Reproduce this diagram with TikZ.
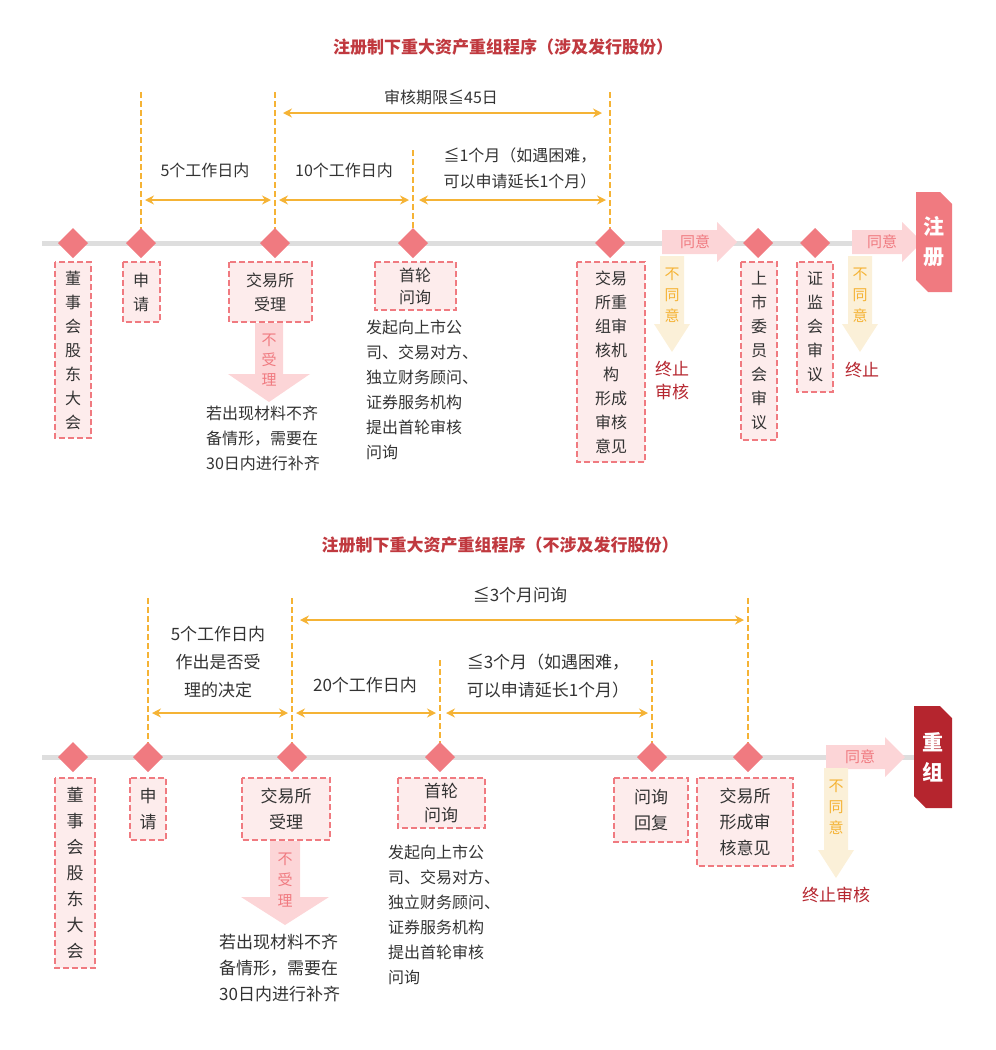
\documentclass[tikz,border=0pt]{standalone}
\usepackage{fontspec}
\setmainfont{Noto Sans CJK SC}
\usetikzlibrary{arrows.meta}
\definecolor{pk}{HTML}{F07A80}
\definecolor{pkfill}{HTML}{FDECEC}
\definecolor{og}{HTML}{F5B335}
\definecolor{rd}{HTML}{C0393F}
\definecolor{dk}{HTML}{B5252E}
\definecolor{lp}{HTML}{FCD5D7}
\definecolor{ly}{HTML}{FBF0D8}
\definecolor{tx}{HTML}{333333}
\begin{document}
\begin{tikzpicture}[x=1pt,y=-1pt,
  every node/.style={inner sep=0pt,text=tx,font=\fontsize{16}{24}\selectfont},
  axis/.style={draw=black!13,line width=5pt},
  dia/.style={fill=pk},
  vdash/.style={draw=og,dash pattern=on 6pt off 3pt,line width=1.8pt},
  span/.style={draw=og,line width=1.8pt,{Stealth[length=9pt,width=9pt]}-{Stealth[length=9pt,width=9pt]}},
  stepbox/.style={draw=pk,fill=pkfill,dash pattern=on 6pt off 3pt,line width=1.8pt},
  ttl/.style={text=rd,font=\fontsize{17}{22}\selectfont\bfseries},
  stop/.style={text=dk,font=\fontsize{17}{23}\selectfont},
  lbl/.style={align=center},
  body/.style={align=left,anchor=north west,font=\fontsize{16}{25}\selectfont}]
\useasboundingbox (0,0) rectangle (996,1050);
\newcommand{\dmd}[2]{\fill[dia] (#1-15,#2)--(#1,#2-15)--(#1+15,#2)--(#1,#2+15)--cycle;}
\newcommand{\boxr}[4]{\draw[stepbox] (#1,#2) rectangle (#3,#4);}
\newcommand{\rarr}[3]{\fill[lp] (#1,#3-12)--(#2-20,#3-12)--(#2-20,#3-20)--(#2,#3)--(#2-20,#3+20)--(#2-20,#3+12)--(#1,#3+12)--cycle;}
\newcommand{\darr}[6]{\fill[#6] (#1-#4,#2)--(#1+#4,#2)--(#1+#4,#3-28)--(#1+#5,#3-28)--(#1,#3)--(#1-#5,#3-28)--(#1-#4,#3-28)--cycle;}

% ===== TOP =====
\node[ttl] (t1) at (503,47) {注册制下重大资产重组程序（涉及发行股份）};
\draw[axis] (42,243) -- (918,243);
\draw[vdash] (141,92)--(141,243); \draw[vdash] (275,92)--(275,243);
\draw[vdash] (413,150)--(413,243); \draw[vdash] (610,92)--(610,243);
\draw[span] (283,113)--(602,113);
\node (p1) at (441,97) {审核期限≦45日};
\draw[span] (145,200)--(271,200); \draw[span] (279,200)--(409,200); \draw[span] (419,200)--(606,200);
\node (a1) at (205,170) {5个工作日内};
\node (a2) at (344,170) {10个工作日内};
\node[lbl,align=left,font=\fontsize{16}{26}\selectfont] (a3) at (520,168) {≦1个月（如遇困难，\\可以申请延长1个月）};
\foreach \x in {73,141,275,413,610,758,815} {\dmd{\x}{243}}
\boxr{55}{262}{91}{438} \node[lbl] (b1) at (73,350) {董\\事\\会\\股\\东\\大\\会};
\boxr{123}{262}{160}{322} \node[lbl] (b2) at (141,292) {申\\请};
\boxr{229}{262}{312}{322} \node[lbl] (b3) at (270,292) {交易所\\受理};
\boxr{375}{262}{456}{310} \node[lbl,font=\fontsize{16}{22}\selectfont] (b4) at (415,286) {首轮\\问询};
\boxr{577}{262}{645}{462} \node[lbl] (b5) at (611,362) {交易\\所重\\组审\\核机\\构\\形成\\审核\\意见};
\boxr{741}{262}{777}{440} \node[lbl] (b6) at (759,351) {上\\市\\委\\员\\会\\审\\议};
\boxr{797}{262}{833}{392} \node[lbl] (b7) at (815,327) {证\\监\\会\\审\\议};
\node[body] (d1) at (366,320) {发起向上市公\\司、交易对方、\\独立财务顾问、\\证券服务机构\\提出首轮审核\\问询};
\darr{269}{323}{402}{14}{41}{lp}
\node[lbl,text=pk,font=\fontsize{15}{20}\selectfont] (n1) at (269,360) {不\\受\\理};
\node[body] (d2) at (206,406) {若出现材料不齐\\备情形，需要在\\30日内进行补齐};
\rarr{662}{737}{242}
\node[text=pk,font=\fontsize{15}{20}\selectfont] (g1) at (695,242) {同意};
\darr{672}{256}{352}{12}{18}{ly}
\node[lbl,text=og,font=\fontsize{15}{21}\selectfont] (r1) at (672,295) {不\\同\\意};
\node[stop,align=center] (s1) at (672,381) {终止\\审核};
\rarr{852}{922}{242}
\node[text=pk,font=\fontsize{15}{20}\selectfont] (g2) at (882,242) {同意};
\darr{860}{256}{352}{12}{18}{ly}
\node[lbl,text=og,font=\fontsize{15}{21}\selectfont] (r2) at (860,295) {不\\同\\意};
\node[stop] (s2) at (862,370) {终止};
\fill[pk] (916,192)--(940,192)--(952,204)--(952,292)--(928,292)--(916,280)--cycle;
\node[lbl,text=white,font=\fontsize{21}{30}\selectfont\bfseries] (e1) at (934,242) {注\\册};

% ===== BOTTOM =====
\node[ttl] (t2) at (500,545) {注册制下重大资产重组程序（不涉及发行股份）};
\draw[axis] (42,757) -- (918,757);
\draw[vdash] (148,598)--(148,757); \draw[vdash] (292,598)--(292,757);
\draw[vdash] (440,660)--(440,757); \draw[vdash] (652,660)--(652,757);
\draw[vdash] (748,598)--(748,757);
\draw[span] (300,620)--(744,620);
\node[font=\fontsize{17}{22}\selectfont] (p2) at (520,595) {≦3个月问询};
\draw[span] (152,713)--(288,713); \draw[span] (296,713)--(436,713); \draw[span] (446,713)--(648,713);
\node[lbl,font=\fontsize{17}{28}\selectfont] (c1) at (218,662) {5个工作日内\\作出是否受\\理的决定};
\node[font=\fontsize{17}{22}\selectfont] (c2) at (365,685) {20个工作日内};
\node[lbl,align=left,font=\fontsize{17}{28}\selectfont] (c3) at (548,676) {≦3个月（如遇困难，\\可以申请延长1个月）};
\foreach \x in {73,148,292,440,652,748} {\dmd{\x}{757}}
\boxr{55}{778}{95}{968} \node[lbl,font=\fontsize{17}{26}\selectfont] (f1) at (75,873) {董\\事\\会\\股\\东\\大\\会};
\boxr{130}{778}{166}{840} \node[lbl,font=\fontsize{17}{26}\selectfont] (f2) at (148,809) {申\\请};
\boxr{242}{778}{330}{840} \node[lbl,font=\fontsize{17}{26}\selectfont] (f3) at (286,809) {交易所\\受理};
\boxr{398}{778}{485}{828} \node[lbl,font=\fontsize{17}{24}\selectfont] (f4) at (441,803) {首轮\\问询};
\boxr{614}{778}{688}{842} \node[lbl,font=\fontsize{17}{26}\selectfont] (f5) at (651,810) {问询\\回复};
\boxr{697}{778}{793}{866} \node[lbl,font=\fontsize{17}{26}\selectfont] (f6) at (745,822) {交易所\\形成审\\核意见};
\node[body,font=\fontsize{16}{25}\selectfont] (d3) at (388,845) {发起向上市公\\司、交易对方、\\独立财务顾问、\\证券服务机构\\提出首轮审核\\问询};
\darr{285}{841}{925}{15}{44}{lp}
\node[lbl,text=pk,font=\fontsize{15}{21}\selectfont] (n2) at (285,880) {不\\受\\理};
\node[body,font=\fontsize{17}{26}\selectfont] (d4) at (219,934) {若出现材料不齐\\备情形，需要在\\30日内进行补齐};
\rarr{826}{905}{757}
\node[text=pk,font=\fontsize{15}{20}\selectfont] (g3) at (860,757) {同意};
\darr{836}{768}{878}{12}{18}{ly}
\node[lbl,text=og,font=\fontsize{15}{21}\selectfont] (r3) at (836,807) {不\\同\\意};
\node[stop] (s3) at (836,895) {终止审核};
\fill[dk] (914,706)--(940,706)--(952,718)--(952,808)--(926,808)--(914,796)--cycle;
\node[lbl,text=white,font=\fontsize{21}{30}\selectfont\bfseries] (e2) at (933,757) {重\\组};
\end{tikzpicture}
\end{document}
